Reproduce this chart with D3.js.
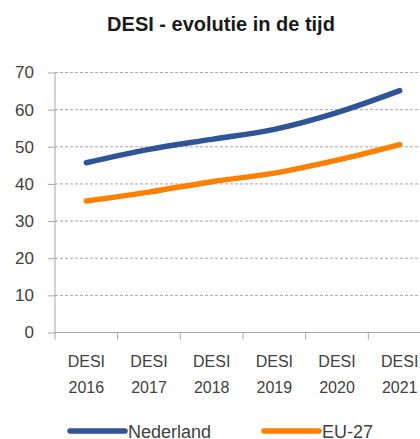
<!DOCTYPE html>
<html>
<head>
<meta charset="utf-8">
<script src="https://cdn.jsdelivr.net/npm/d3@7"></script>
<style>
body { margin: 0; background: #fff; }
text { font-family: "Liberation Sans", Arial, sans-serif; fill: #404040; }
.grid line { stroke: #a6a6a6; stroke-dasharray: 3,2; }
.axis path, .axis line { stroke: #a6a6a6; }
</style>
</head>
<body>
<div id="chart"></div>
<script>
// data
var years = ["2016", "2017", "2018", "2019", "2020", "2021"];
var nederland = [45.7, 49.3, 52.0, 54.7, 59.2, 65.1];
var eu27 = [35.4, 37.8, 40.6, 42.9, 46.4, 50.6];
var yTicks = [0, 10, 20, 30, 40, 50, 60, 70];
var seriesNames = ["Nederland", "EU-27"];
var colors = ["#2f5597", "#ff8000"];

var width = 420, height = 439;
var plotLeft = 55, plotTop = 72.5, plotH = 260;

var svg = d3.select("#chart").append("svg")
    .attr("width", width)
    .attr("height", height);

var x = d3.scaleBand()
    .domain(years)
    .range([plotLeft, plotLeft + 6 * 62.67]);

var y = d3.scaleLinear()
    .domain([0, 70])
    .range([plotTop + plotH, plotTop]);

// title
svg.append("text")
    .attr("x", 221)
    .attr("y", 31)
    .attr("text-anchor", "middle")
    .style("font-weight", "bold")
    .style("font-size", "20px")
    .style("fill", "#1a1a1a")
    .text("DESI - evolutie in de tijd");

// gridlines
svg.append("g")
    .attr("class", "grid")
    .selectAll("line")
    .data(yTicks.filter(function(d) { return d > 0; }))
    .enter().append("line")
    .attr("x1", plotLeft)
    .attr("x2", width)
    .attr("y1", function(d) { return y(d); })
    .attr("y2", function(d) { return y(d); });

// y axis
var yAxis = svg.append("g")
    .attr("class", "axis")
    .attr("transform", "translate(" + plotLeft + ",0)")
    .call(d3.axisLeft(y).tickValues(yTicks).tickSize(7).tickSizeOuter(0).tickPadding(14));
yAxis.selectAll("text").style("font-size", "17px").style("fill", "#404040").style("font-family", null);
yAxis.attr("font-family", null).attr("font-size", null);
yAxis.select(".domain").attr("d", "M0," + y(70) + "V" + (y(0) + 7));

// x axis line and ticks between categories
var xg = svg.append("g").attr("class", "axis");
xg.append("line")
    .attr("x1", plotLeft).attr("x2", width)
    .attr("y1", y(0)).attr("y2", y(0));
xg.selectAll(".tk")
    .data(years.slice(1))
    .enter().append("line")
    .attr("class", "tk")
    .attr("x1", function(d) { return x(d); })
    .attr("x2", function(d) { return x(d); })
    .attr("y1", y(0)).attr("y2", y(0) + 7);

var lbl = svg.append("g").selectAll("text")
    .data(years)
    .enter().append("text")
    .attr("text-anchor", "middle")
    .style("font-size", "16px")
    .attr("transform", function(d) { return "translate(" + (x(d) + x.bandwidth() / 2) + ",0)"; });
lbl.append("tspan").attr("x", 0).attr("y", 367).text("DESI");
lbl.append("tspan").attr("x", 0).attr("y", 393).text(function(d) { return d; });

// lines
var line = d3.line()
    .x(function(d, i) { return x(years[i]) + x.bandwidth() / 2; })
    .y(function(d) { return y(d); })
    .curve(d3.curveCatmullRom.alpha(0.5));

[nederland, eu27].forEach(function(s, i) {
  svg.append("path")
      .datum(s)
      .attr("d", line)
      .attr("fill", "none")
      .attr("stroke", colors[i])
      .attr("stroke-width", 5.5)
      .attr("stroke-linecap", "round");
});

// legend
var legX = [70, 264];
seriesNames.forEach(function(n, i) {
  svg.append("line")
      .attr("x1", legX[i]).attr("x2", legX[i] + 55)
      .attr("y1", 431).attr("y2", 431)
      .attr("stroke", colors[i])
      .attr("stroke-width", 5.5)
      .attr("stroke-linecap", "round");
  svg.append("text")
      .attr("x", legX[i] + 58)
      .attr("y", 438)
      .style("font-size", "18px")
      .text(n);
});
</script>
</body>
</html>
